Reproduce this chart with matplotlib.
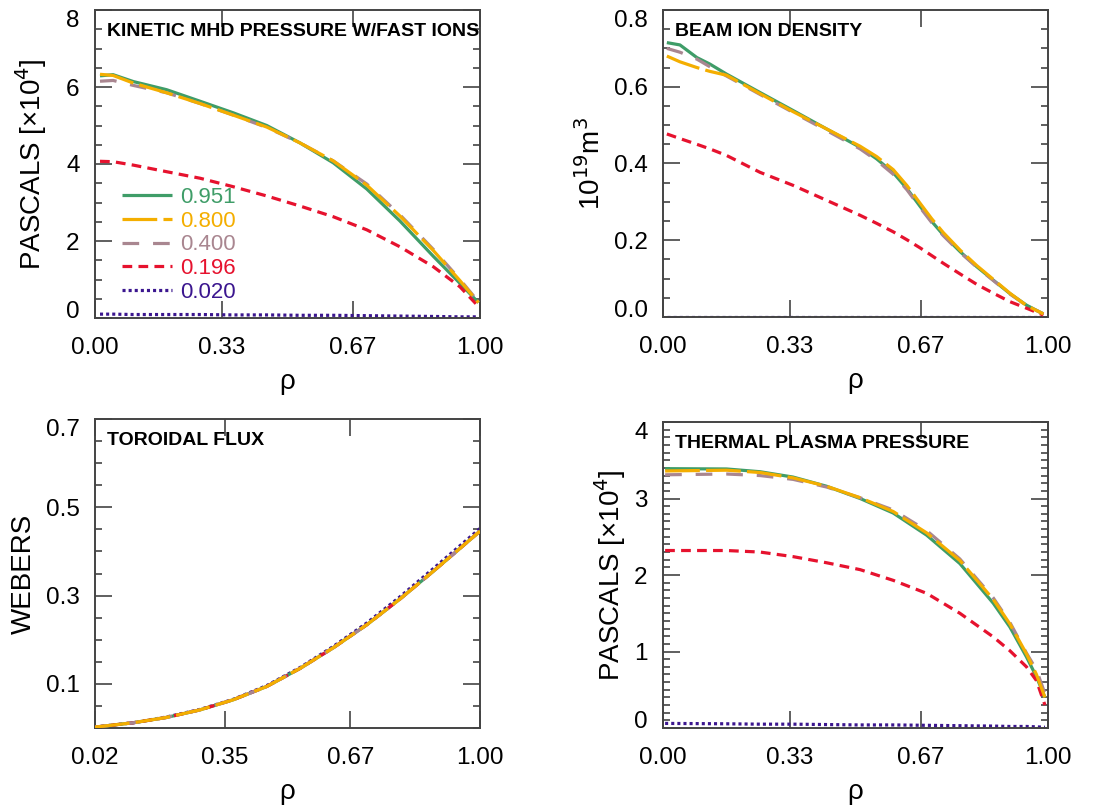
import numpy as np
import matplotlib
matplotlib.use("Agg")
import matplotlib.pyplot as plt
from matplotlib.ticker import MultipleLocator, FixedLocator

plt.rcParams["font.family"] = ["Liberation Sans", "DejaVu Sans"]
plt.rcParams["lines.scale_dashes"] = False

# ---------------- data -----------------------------------------------
labels = ["0.951", "0.800", "0.400", "0.196", "0.020"]
colors = ["#3f9d68", "#f4ae00", "#a98690", "#e6122e", "#3b168f"]
dashes = [None, (25, 4.5), (12, 10), (7, 4.5), (2.2, 2.2)]

# kinetic MHD pressure w/ fast ions [x1e4 Pa]
rho_kin = [0.013, 0.047, 0.10, 0.186, 0.273, 0.359, 0.446, 0.532, 0.619,
           0.706, 0.792, 0.879, 0.948, 0.996]
kin = {
    "0.951": [6.29, 6.32, 6.14, 5.93, 5.63, 5.33, 5.00, 4.55, 4.03, 3.35, 2.52, 1.60, 0.90, 0.40],
    "0.800": [6.33, 6.30, 6.10, 5.85, 5.57, 5.27, 4.96, 4.55, 4.08, 3.45, 2.65, 1.75, 0.97, 0.40],
    "0.400": [6.15, 6.17, 6.04, 5.85, 5.57, 5.27, 4.95, 4.55, 4.08, 3.48, 2.68, 1.78, 1.00, 0.42],
    "0.196": [4.07, 4.06, 3.97, 3.80, 3.63, 3.41, 3.17, 2.91, 2.63, 2.29, 1.85, 1.33, 0.81, 0.30],
    "0.020": [0.10, 0.10, 0.09, 0.09, 0.09, 0.08, 0.08, 0.07, 0.07, 0.06, 0.05, 0.04, 0.03, 0.03],
}

# beam ion density [1e19 m^-3]
rho_beam = [0.01, 0.044, 0.088, 0.122, 0.165, 0.252, 0.338, 0.425, 0.512,
            0.555, 0.598, 0.634, 0.668, 0.698, 0.728, 0.772, 0.815, 0.858,
            0.901, 0.944, 0.988]
beam = {
    "0.951": [0.715, 0.709, 0.676, 0.659, 0.633, 0.585, 0.538, 0.490, 0.442,
              0.412, 0.376, 0.334, 0.288, 0.249, 0.214, 0.170, 0.131, 0.096,
              0.061, 0.031, 0.008],
    "0.800": [0.680, 0.665, 0.650, 0.640, 0.630, 0.582, 0.535, 0.490, 0.445,
              0.418, 0.384, 0.342, 0.296, 0.256, 0.220, 0.174, 0.134, 0.098,
              0.062, 0.030, 0.008],
    "0.400": [0.700, 0.690, 0.672, 0.652, 0.628, 0.580, 0.533, 0.486, 0.438,
              0.408, 0.372, 0.331, 0.285, 0.246, 0.212, 0.168, 0.130, 0.095,
              0.060, 0.030, 0.008],
    "0.196": [0.477, 0.465, 0.450, 0.438, 0.421, 0.377, 0.343, 0.304, 0.265,
              0.244, 0.222, 0.201, 0.180, 0.160, 0.140, 0.112, 0.085, 0.062,
              0.040, 0.023, 0.005],
    "0.020": [0.001] * 21,
}

# toroidal flux [Wb]
rho_flux = [0.02, 0.118, 0.2025, 0.287, 0.372, 0.457, 0.542, 0.627, 0.712,
            0.796, 0.881, 0.940, 1.0]
flux_common = [0.002, 0.012, 0.024, 0.041, 0.064, 0.094, 0.135, 0.182, 0.234,
               0.292, 0.355, 0.400, 0.446]
flux = {
    "0.951": flux_common,
    "0.800": flux_common,
    "0.400": flux_common,
    "0.196": flux_common,
    "0.020": [0.002, 0.012, 0.025, 0.042, 0.065, 0.096, 0.137, 0.185, 0.238,
              0.297, 0.361, 0.406, 0.452],
}

# thermal plasma pressure [x1e4 Pa]
rho_th = [0.0055, 0.165, 0.252, 0.338, 0.425, 0.512, 0.598, 0.685, 0.771,
          0.858, 0.901, 0.944, 0.970, 0.992]
therm = {
    "0.951": [3.39, 3.386, 3.35, 3.28, 3.16, 3.00, 2.81, 2.52, 2.15, 1.63, 1.32, 0.93, 0.67, 0.40],
    "0.800": [3.36, 3.37, 3.34, 3.27, 3.16, 3.01, 2.83, 2.55, 2.19, 1.68, 1.36, 0.97, 0.70, 0.40],
    "0.400": [3.31, 3.32, 3.30, 3.25, 3.15, 3.01, 2.85, 2.58, 2.21, 1.70, 1.38, 0.98, 0.76, 0.45],
    "0.196": [2.32, 2.32, 2.30, 2.24, 2.16, 2.07, 1.93, 1.76, 1.50, 1.19, 1.01, 0.80, 0.62, 0.30],
    "0.020": [0.06, 0.055, 0.05, 0.05, 0.045, 0.04, 0.04, 0.035, 0.03, 0.025, 0.02, 0.02, 0.015, 0.01],
}

# bottom to top drawing order (orange ends up on top, like the original)
draw_order = ["0.020", "0.951", "0.196", "0.400", "0.800"]

FRAME = "#444444"
TICK_FS = 17.5
LABEL_FS = 20


def draw(ax, rho, series):
    handles = {}
    for z, key in enumerate(draw_order):
        i = labels.index(key)
        ln, = ax.plot(rho, series[key], color=colors[i], lw=2.3, zorder=2 + z,
                      solid_capstyle="butt", dash_capstyle="butt",
                      solid_joinstyle="round")
        if dashes[i] is not None:
            ln.set_dashes(dashes[i])
        handles[key] = ln
    return [handles[k] for k in labels]


def style(ax, xlim, xticks, ylim, ymajor, yfmt, yminor, title, ylabel, ylab_x):
    ax.set_xlim(*xlim)
    ax.set_ylim(*ylim)
    ax.xaxis.set_major_locator(FixedLocator(xticks))
    ax.set_xticklabels([f"{t:.2f}" for t in xticks])
    ax.yaxis.set_major_locator(FixedLocator(ymajor))
    ax.set_yticklabels([yfmt.format(v) for v in ymajor])
    ax.yaxis.set_minor_locator(MultipleLocator(yminor))
    ax.tick_params(which="both", direction="in", top=True, right=True,
                   colors=FRAME, labelcolor="black", labelsize=TICK_FS, width=1.2)
    ax.tick_params(which="major", length=12)
    ax.tick_params(which="minor", length=5)
    ax.tick_params(axis="x", pad=14)
    ax.tick_params(axis="y", pad=11)
    for s in ax.spines.values():
        s.set_color(FRAME)
        s.set_linewidth(1.4)
    ax.text(0.03, 0.93, title, transform=ax.transAxes, fontsize=14,
            fontweight="bold", va="center", ha="left")
    ax.set_xlabel("ρ", fontsize=LABEL_FS, labelpad=7)
    ax.set_ylabel(ylabel, fontsize=LABEL_FS)
    ax.yaxis.set_label_coords(ylab_x, 0.5)
    # IDL-like: keep edge tick labels inside the frame
    for lab, v in zip(ax.get_yticklabels(), ymajor):
        if np.isclose(v, ylim[1]):
            lab.set_va("top")
        elif np.isclose(v, ylim[0]):
            lab.set_va("baseline")


fig = plt.figure(figsize=(11.2, 8.1), dpi=100)
W = 385 / 1120
ax1 = fig.add_axes([95 / 1120, 1 - 318 / 810, W, 308 / 810])
ax2 = fig.add_axes([663 / 1120, 1 - 317 / 810, W, 307 / 810])
ax3 = fig.add_axes([95 / 1120, 1 - 728 / 810, W, 309 / 810])
ax4 = fig.add_axes([663 / 1120, 1 - 728 / 810, W, 306 / 810])

h = draw(ax1, rho_kin, kin)
draw(ax2, rho_beam, beam)
draw(ax3, rho_flux, flux)
draw(ax4, rho_th, therm)

style(ax1, (0, 1), [0, 0.33, 0.67, 1.0], (0, 8), [0, 2, 4, 6, 8], "{:.0f}", 0.5,
      "KINETIC MHD PRESSURE W/FAST IONS", "PASCALS [×10$^4$]", -0.12)
style(ax2, (0, 1), [0, 0.33, 0.67, 1.0], (0, 0.8), [0, 0.2, 0.4, 0.6, 0.8], "{:.1f}", 0.05,
      "BEAM ION DENSITY", "10$^{19}$m$^3$", -0.148)
style(ax3, (0.02, 1), [0.02, 0.35, 0.67, 1.0], (0, 0.7), [0.1, 0.3, 0.5, 0.7], "{:.1f}", 0.05,
      "TOROIDAL FLUX", "WEBERS", -0.151)
style(ax4, (0, 1), [0, 0.33, 0.67, 1.0], (0, 4), [0, 1, 2, 3, 4], "{:.0f}", 0.1,
      "THERMAL PLASMA PRESSURE", "PASCALS [×10$^4$]", -0.092)

leg = ax1.legend(h, labels, loc="upper left", bbox_to_anchor=(0.07, 0.425),
                 frameon=False, fontsize=16, handlelength=2.25,
                 handletextpad=0.35, labelspacing=0.12, borderpad=0,
                 borderaxespad=0)
for t, c in zip(leg.get_texts(), colors):
    t.set_color(c)

fig.savefig("out.png", dpi=100)
